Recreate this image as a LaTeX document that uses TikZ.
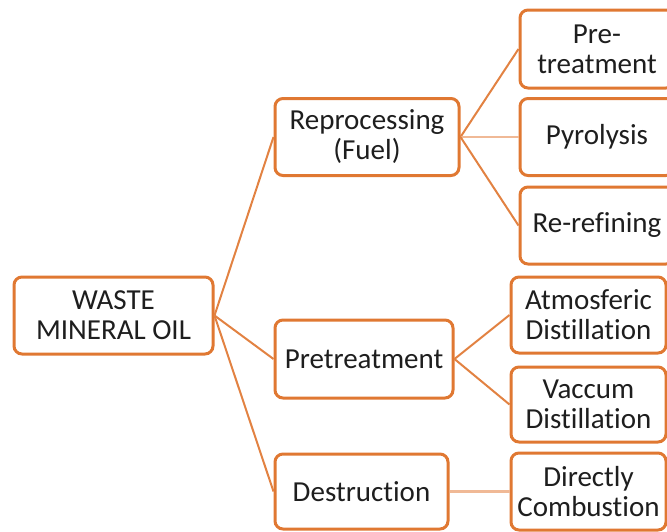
\documentclass[tikz,border=0pt]{standalone}
\usepackage{fontspec}
\setmainfont[Ligatures=NoCommon]{Carlito}
\definecolor{boxorange}{RGB}{224,120,50}
\definecolor{lineorange}{RGB}{226,130,66}
\definecolor{linelight}{RGB}{240,185,150}
\definecolor{txt}{RGB}{30,30,30}
\begin{document}
\begin{tikzpicture}[x=1pt,y=-1pt,
  box/.style={draw=boxorange,line width=3pt,rounded corners=8pt,fill=white,
    inner sep=0pt,align=center,text=txt,
    font=\fontsize{29}{30}\selectfont},
  conn/.style={draw=lineorange,line width=2pt},
  connlight/.style={draw=linelight,line width=2.5pt}]
\useasboundingbox (0,0) rectangle (667,531);
\node[box,minimum width=199pt,minimum height=77pt] (waste) at (113.5,315.5) {WASTE\\MINERAL OIL};
\node[box,minimum width=184pt,minimum height=77pt] (repro) at (367,137) {Reprocessing\\(Fuel)};
\node[box,minimum width=178pt,minimum height=78pt] (pretr) at (364,359) {Pretreatment};
\node[box,minimum width=173pt,minimum height=75pt] (destr) at (361.5,491.5) {Destruction};
\node[box,minimum width=154pt,minimum height=78pt] (pret2) at (597,49) {Pre-\\treatment};
\node[box,minimum width=154pt,minimum height=77pt] (pyro) at (597,137) {Pyrolysis};
\node[box,minimum width=154pt,minimum height=77pt] (reref) at (597,225.5) {Re-refining};
\node[box,minimum width=155pt,minimum height=76pt] (atmos) at (588.5,315) {Atmosferic\\Distillation};
\node[box,minimum width=155pt,minimum height=75pt] (vac) at (588.5,404.5) {Vaccum\\Distillation};
\node[box,minimum width=155pt,minimum height=77pt] (direct) at (588.5,491.5) {Directly\\Combustion};
\draw[conn] (waste.east) -- (repro.west);
\draw[conn] (waste.east) -- (pretr.west);
\draw[conn] (waste.east) -- (destr.west);
\draw[conn] (repro.east) -- (pret2.west);
\draw[connlight] (repro.east) -- (pyro.west);
\draw[conn] (repro.east) -- (reref.west);
\draw[conn] (pretr.east) -- (atmos.west);
\draw[conn] (pretr.east) -- (vac.west);
\draw[connlight] (destr.east) -- (direct.west);
\end{tikzpicture}
\end{document}
